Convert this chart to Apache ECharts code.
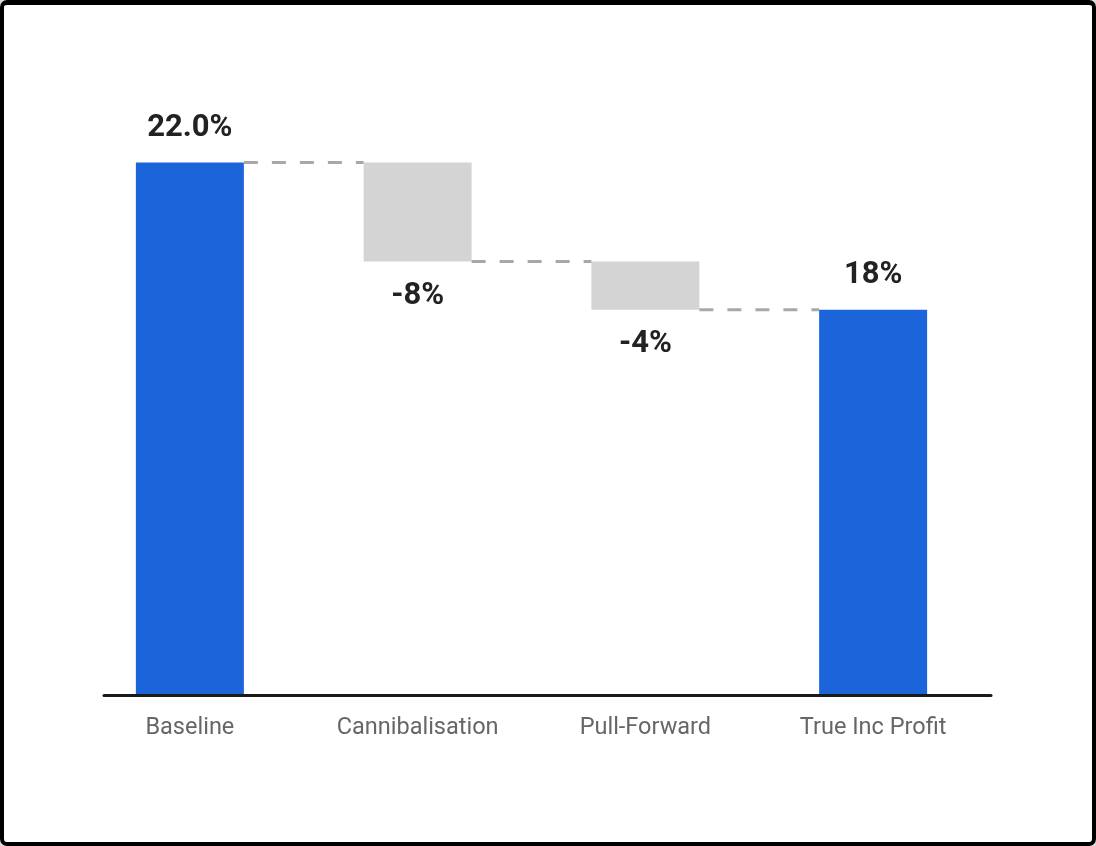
<!DOCTYPE html>
<html lang="en">

<head>
    <meta charset="UTF-8">
    <title>waterfall</title>
    <script src="https://cdn.jsdelivr.net/npm/echarts@6/dist/echarts.min.js"></script>
    <style>
        html, body { margin: 0; padding: 0; background: #dcdcdc; }
        #wrap { position: relative; width: 1096px; height: 846px; }
        #chart { position: absolute; left: 0; top: 0; width: 1096px; height: 846px; background: #fff; border-radius: 7px; }
        #frame { position: absolute; left: 0; top: 0; width: 1096px; height: 846px; box-sizing: border-box;
                 border: 4px solid #000; border-top-width: 5px; border-radius: 7px; pointer-events: none; }
    </style>
</head>

<body>
    <div id="wrap">
        <div id="chart"></div>
        <div id="frame"></div>
    </div>
</body>
<script>
    var chart = echarts.init(document.getElementById('chart'));

    // data
    const categories = ['Baseline', 'Cannibalisation', 'Pull-Forward', 'True Inc Profit'];
    const barHeights = [22, 4.1, 2.0, 15.9];      // drawn size of each bar
    const isTotal = [true, false, false, true];    // totals start from 0
    const labelTexts = ['22.0%', '-8%', '-4%', '18%'];

    const BLUE = '#1c64da';
    const GREY = '#d4d4d4';

    // invisible offsets for the floating bars
    var offsets = [];
    var running = 0;
    barHeights.forEach((h, i) => {
        if (isTotal[i]) {
            offsets.push(0);
            running = h;
        } else {
            running = running - h;
            offsets.push(running);
        }
    });
    // connector i goes from bar i to bar i+1 at the level where bar i ends
    var connectors = [];
    for (let i = 0; i < categories.length - 1; i++) {
        let lv = isTotal[i] ? barHeights[i] : offsets[i];
        connectors.push([i, lv]);
    }

    var barData = barHeights.map((h, i) => ({
        value: h,
        itemStyle: { color: isTotal[i] ? BLUE : GREY },
        label: { position: isTotal[i] ? 'top' : 'bottom' }
    }));

    var options = {
        animation: false,
        grid: [
            { left: 76, right: 109, top: 90, bottom: 152 },
            { left: 104, right: 105, top: 90, bottom: 151 }
        ],
        xAxis: [{
            type: 'category',
            gridIndex: 0,
            data: categories,
            axisLine: { show: false },
            axisTick: { show: false },
            axisLabel: {
                color: '#666',
                fontFamily: 'Roboto',
                fontSize: 23.5,
                margin: 22
            }
        }, {
            type: 'value',
            gridIndex: 1,
            min: 0,
            max: 1,
            position: 'bottom',
            axisLine: { show: true, onZero: false, lineStyle: { color: '#1a1a1a', width: 3 } },
            axisTick: { show: false },
            axisLabel: { show: false },
            splitLine: { show: false }
        }],
        yAxis: [{
            type: 'value',
            gridIndex: 0,
            min: 0,
            max: 25,
            show: false
        }, {
            type: 'value',
            gridIndex: 1,
            show: false
        }],
        series: [{
            name: 'offset',
            type: 'bar',
            stack: 'wf',
            barWidth: 108,
            itemStyle: { color: 'transparent' },
            data: offsets,
            silent: true
        }, {
            name: 'value',
            type: 'bar',
            stack: 'wf',
            barWidth: 108,
            data: barData,
            label: {
                show: true,
                distance: 19,
                color: '#222',
                fontFamily: 'Roboto',
                fontWeight: 'bold',
                fontSize: 31,
                formatter: p => labelTexts[p.dataIndex]
            }
        }, {
            name: 'connector',
            type: 'custom',
            xAxisIndex: 0,
            yAxisIndex: 0,
            data: connectors,
            z: 3,
            renderItem: function(params, api) {
                var i = api.value(0);
                var lv = api.value(1);
                var a = api.coord([i, lv]);
                var b = api.coord([i + 1, lv]);
                return {
                    type: 'line',
                    shape: { x1: a[0] + 54, y1: a[1], x2: b[0] - 54, y2: b[1] },
                    style: { stroke: '#a8a8a8', lineWidth: 3, lineDash: [14, 14] }
                };
            }
        }]
    };

    chart.setOption(options);
</script>

</html>
